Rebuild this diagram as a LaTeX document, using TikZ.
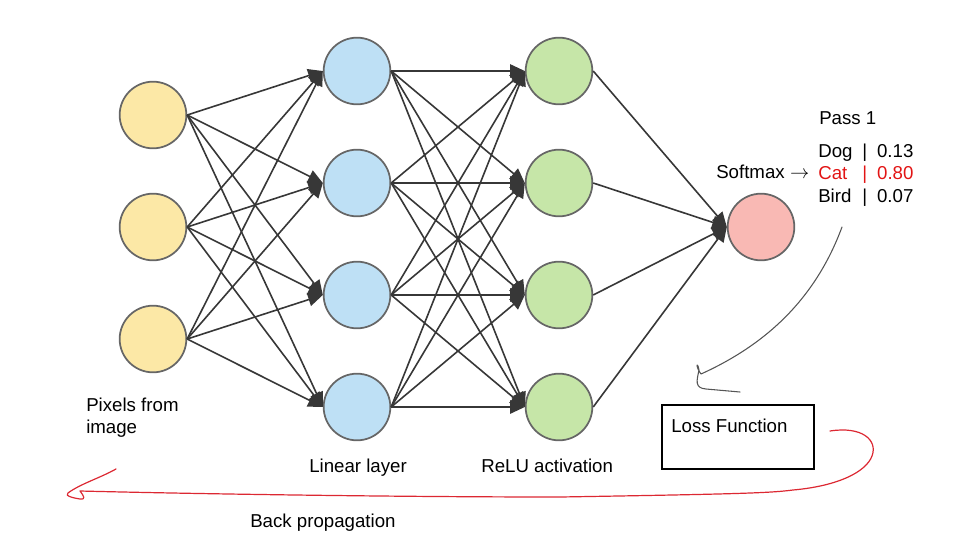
\documentclass[tikz,border=0pt]{standalone}
\usepackage{fontspec}
\setmainfont{Liberation Sans}
\usetikzlibrary{arrows.meta}
\definecolor{inc}{RGB}{252,232,166}
\definecolor{hidc}{RGB}{190,224,245}
\definecolor{reluc}{RGB}{198,230,168}
\definecolor{outc}{RGB}{249,185,180}
\definecolor{ringc}{RGB}{102,102,102}
\definecolor{edgec}{RGB}{55,55,55}
\definecolor{catred}{RGB}{226,20,20}
\definecolor{backred}{RGB}{220,40,50}
\definecolor{handgray}{RGB}{85,85,85}
\begin{document}
\begin{tikzpicture}[x=0.75pt,y=-0.75pt,
  neuron/.style={circle, draw=ringc, line width=1.3pt, minimum size=50pt, inner sep=0pt},
  edge/.style={draw=edgec, line width=1.2pt, -{Triangle[length=11pt,width=10pt]}},
  lbl/.style={font=\fontsize{14}{16.5}\selectfont, inner sep=0pt, anchor=base west},
  lossbox/.style={draw=black, line width=1.2pt, minimum width=114pt, minimum height=48pt, inner sep=0pt, anchor=north west},
  backarrow/.style={draw=backred, line width=0.9pt, line cap=round, line join=round},
  handarrow/.style={draw=handgray, line width=0.8pt, line cap=round, line join=round}]
\useasboundingbox (0,0) rectangle (960,540);

% neurons
\foreach \i/\y in {1/115,2/227,3/339}
  \node[neuron, fill=inc] (in\i) at (153,\y) {};
\foreach \i/\y in {1/71,2/183,3/295,4/407}{
  \node[neuron, fill=hidc] (h\i) at (357,\y) {};
  \node[neuron, fill=reluc] (r\i) at (559,\y) {};
}
\node[neuron, fill=outc] (out) at (761,227) {};

% connections
\foreach \i in {1,2,3}
  \foreach \j in {1,...,4}
    \draw[edge] (in\i.east) -- (h\j.west);
\foreach \i in {1,...,4}
  \foreach \j in {1,...,4}
    \draw[edge] (h\i.east) -- (r\j.west);
\foreach \i in {1,...,4}
  \draw[edge] (r\i.east) -- (out.west);

% labels
\node[lbl] (pixlbl) at (86,411) {\begin{tabular}[t]{@{}l@{}}Pixels from\\image\end{tabular}};
\node[lbl] (linlbl) at (309,472) {Linear layer};
\node[lbl] (relulbl) at (481,472) {ReLU activation};
\node[lbl] (backlbl) at (250,527) {Back propagation};
\node[lbl] (softlbl) at (716,178) {Softmax\hspace{4pt}$\rightarrow$};
\node[lbl] (passlbl) at (819,124) {Pass 1};
\node[lbl, font=\fontsize{14}{16.9}\selectfont] (probs) at (818,157)
  {\begin{tabular}[t]{@{}p{33pt}@{}l@{\hspace{7.5pt}}l@{}}
   Dog & | & 0.13\\
   \textcolor{catred}{Cat} & \textcolor{catred}{|} & \textcolor{catred}{0.80}\\
   Bird & | & 0.07
   \end{tabular}};

% loss function box
\node[lossbox] (loss) at (661,404) {};
\node[lbl] (losslbl) at ([shift={(10,28)}]loss.north west) {Loss Function};

% hand-drawn gray arrow from the output towards the loss box
\coordinate (gstart) at (842,227);
\coordinate (gtip) at (701,374);
\draw[handarrow] (gstart) .. controls (815,300) and (765,345) .. (gtip)
  .. controls (695,366) and (697,360) .. (699,370)
  .. controls (697,380) and (694,388) .. (706,389) -- (740,392);

% hand-drawn red back-propagation arrow
\coordinate (bstart) at (830,431);
\coordinate (btip) at (68,493);
\draw[backarrow] (bstart) .. controls (862,426) and (878,440) .. (872,456)
  .. controls (866,472) and (838,486) .. (793,490)
  .. controls (770,493) and (740,494) .. (560,497)
  .. controls (400,497) and (200,494) .. (80,491)
  .. controls (84,496) and (86,500) .. (80,499)
  .. controls (74,498) and (64,496) .. (btip)
  .. controls (80,484) and (100,478) .. (116,469);
\end{tikzpicture}
\end{document}
